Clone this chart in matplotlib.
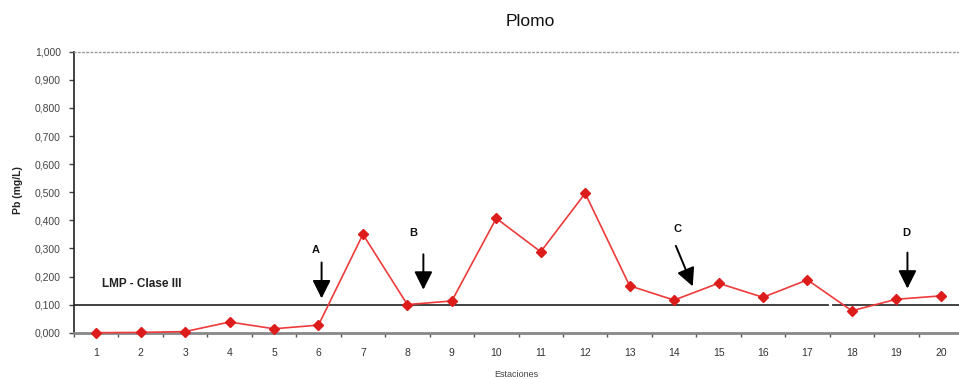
import matplotlib
matplotlib.use("Agg")
import matplotlib.pyplot as plt
from matplotlib.ticker import FuncFormatter, FixedLocator

stations = [str(i) for i in range(1, 21)]
pb_values = [0.000, 0.001, 0.004, 0.038, 0.014, 0.027, 0.350, 0.100, 0.113, 0.407,
             0.288, 0.496, 0.167, 0.116, 0.176, 0.126, 0.188, 0.078, 0.119, 0.131]
lmp_value = 0.100
lmp_label = "LMP - Clase III"
arrow_labels = ["A", "B", "C", "D"]

plt.rcParams['font.family'] = ['Liberation Sans', 'DejaVu Sans']

fig = plt.figure(figsize=(9.59, 3.79), dpi=100)
W, H = 959, 379
left, right = 74, 959
bottom, top = 332.7, 51.7
ax = fig.add_axes([left / W, 1 - bottom / H, (right - left) / W, (bottom - top) / H])

x = list(range(1, len(stations) + 1))
ax.plot(x, pb_values, color='#ee3b3b', lw=1.2, marker='D', ms=5.5,
        mfc='#dd1c1c', mec='#dd1c1c', zorder=3, clip_on=False)

# LMP reference line (with small break between 17 and 18 as in original)
ax.plot([0.5, 17.46], [lmp_value, lmp_value], color='#333333', lw=1.3, zorder=2)
ax.plot([17.58, 20.5], [lmp_value, lmp_value], color='#333333', lw=1.3, zorder=2)
ax.text(1.12, 0.173, lmp_label, fontsize=8.5, fontweight='bold', color='#222222',
        va='center', ha='left')

# arrows: (label pos), (tail), (head)
arrows = [((5.93, 0.294), (6.07, 0.250), (6.07, 0.122)),
          ((8.14, 0.354), (8.36, 0.279), (8.36, 0.153)),
          ((14.08, 0.368), (14.04, 0.309), (14.42, 0.165)),
          ((19.23, 0.354), (19.25, 0.285), (19.25, 0.157))]
for lab, (lp, tail, head) in zip(arrow_labels, arrows):
    ax.text(lp[0], lp[1], lab, fontsize=8, fontweight='bold', ha='center', va='center',
            color='#111111')
    ax.annotate('', xy=head, xytext=tail,
                arrowprops=dict(arrowstyle='-|>,head_width=0.55,head_length=1.1',
                                color='black', lw=1.4, shrinkA=0, shrinkB=0))

ax.set_xlim(0.5, 0.5 + (right - left) / 44.45)
ax.set_ylim(0, 1.0)

ax.set_xticks(x)
ax.set_xticklabels(stations)
ax.xaxis.set_minor_locator(FixedLocator([i + 0.5 for i in range(0, 21)]))
ax.tick_params(axis='x', which='major', length=0, pad=11, labelsize=7.5, labelcolor='#333333')
ax.tick_params(axis='x', which='minor', length=3, width=1, color='#555555', direction='out')

ax.set_yticks([i / 10 for i in range(11)])
ax.yaxis.set_major_formatter(FuncFormatter(lambda v, p: f"{v:.3f}".replace('.', ',')))
ax.tick_params(axis='y', length=3.5, width=1, direction='out', pad=6, labelsize=7.5,
               labelcolor='#444444', color='#444444')

ax.spines['right'].set_visible(False)
ax.spines['top'].set_linestyle((0, (1, 2)))
ax.spines['top'].set_color('#999999')
ax.spines['top'].set_linewidth(1)
ax.spines['left'].set_color('#222222')
ax.spines['left'].set_linewidth(1.2)
ax.spines['bottom'].set_color('#888888')
ax.spines['bottom'].set_linewidth(2)

ax.set_xlabel('Estaciones', fontsize=6.5, color='#444444', labelpad=9)
fig.text(18 / W, 1 - 190 / H, 'Pb (mg/L)', rotation=90, fontsize=7.5, fontweight='bold',
         ha='center', va='center', color='#222222')
fig.text(530 / W, 1 - 22 / H, 'Plomo', fontsize=12.5, ha='center', va='center', color='#111111')

fig.savefig('out.png', dpi=100)
